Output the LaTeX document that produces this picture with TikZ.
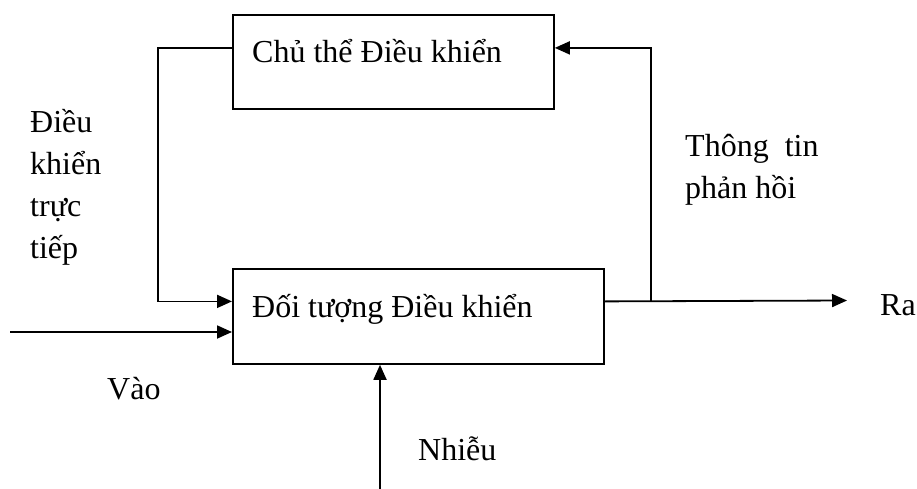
\documentclass[tikz,border=0pt]{standalone}
\usepackage{fontspec}
\setmainfont{Liberation Serif}
\usepackage{xcolor}
\definecolor{cMain}{HTML}{000000}
\usetikzlibrary{positioning,arrows.meta,calc}
\tikzset{
  node-box/.style={draw=cMain,line width=1.8pt,inner sep=0pt,anchor=north west},
  node-text/.style={inner sep=0pt,anchor=base west,align=left,
    font=\fontsize{32}{42}\selectfont},
  arrow/.style={-{Triangle[length=15pt,width=13pt]},line width=1.8pt,draw=cMain},
}

\begin{document}
\begin{tikzpicture}[x=1pt,y=-1pt]
  \useasboundingbox (0,0) rectangle (917,489);
  % hai khối
  \node[node-box,minimum width=321pt,minimum height=94pt] (chu-the) at (232,14) {};
  \node[node-text] (chu-the-txt) at (252,63) {Chủ thể Điều khiển};
  \node[node-box,minimum width=371pt,minimum height=95pt] (doi-tuong) at (232,268) {};
  \node[node-text] (doi-tuong-txt) at (252,317) {Đối tượng Điều khiển};

  % đầu vào, nhiễu, đầu ra
  \coordinate (vao-in) at (10,332);
  \coordinate (nhieu-in) at (380,489);
  \coordinate (ra-out) at (847,300.5);
  \coordinate (phan-hoi) at (651,300.5);

  % điều khiển trực tiếp
  \draw[arrow] ([yshift=14pt]chu-the.west) -- ++(-74,0) |- ([yshift=15pt]doi-tuong.west);
  \draw[arrow] (vao-in) -- (vao-in -| doi-tuong.west);
  \draw[arrow] (nhieu-in) -- (nhieu-in |- doi-tuong.south);
  \draw[arrow] ([yshift=15pt]doi-tuong.east) -- (ra-out);
  % thông tin phản hồi
  \draw[arrow] (phan-hoi) |- ([yshift=14pt]chu-the.east);

  % nhãn
  \node[node-text] (lbl-truc-tiep) at (30,258) {Điều\\khiển\\trực\\tiếp};
  \node[node-text] (lbl-phan-hoi) at (685,198) {Thông~~tin\\phản hồi};
  \node[node-text] (lbl-vao) at (107,399) {Vào};
  \node[node-text] (lbl-nhieu) at (418,460) {Nhiễu};
  \node[node-text] (lbl-ra) at (880,315) {Ra};
\end{tikzpicture}
\end{document}
